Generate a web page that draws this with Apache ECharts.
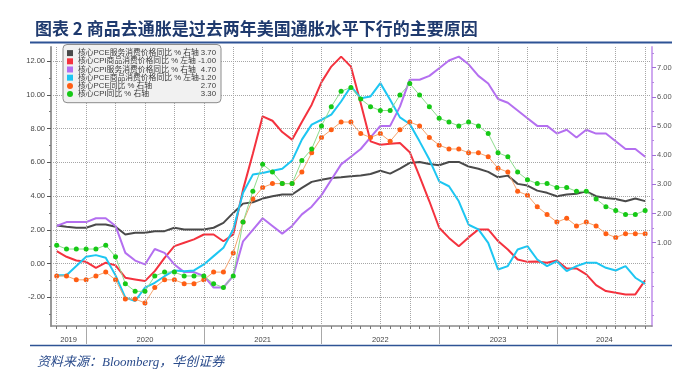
<!DOCTYPE html>
<html><head><meta charset="utf-8">
<script src="https://cdn.jsdelivr.net/npm/echarts@6/dist/echarts.min.js"></script>
<style>html,body{margin:0;padding:0;background:#fff}#c{width:686px;height:373px}</style>
</head><body><div id="c"></div>
<script>
// ---- data ----
const months = ['2019-09','2019-10','2019-11','2019-12',
 '2020-01','2020-02','2020-03','2020-04','2020-05','2020-06','2020-07','2020-08','2020-09','2020-10','2020-11','2020-12',
 '2021-01','2021-02','2021-03','2021-04','2021-05','2021-06','2021-07','2021-08','2021-09','2021-10','2021-11','2021-12',
 '2022-01','2022-02','2022-03','2022-04','2022-05','2022-06','2022-07','2022-08','2022-09','2022-10','2022-11','2022-12',
 '2023-01','2023-02','2023-03','2023-04','2023-05','2023-06','2023-07','2023-08','2023-09','2023-10','2023-11','2023-12',
 '2024-01','2024-02','2024-03','2024-04','2024-05','2024-06','2024-07','2024-08','2024-09'];
const yearNames = ['2019','2020','2021','2022','2023','2024'];

const pceServices = [2.25,2.18,2.12,2.12,2.31,2.31,2.18,1.72,1.82,1.82,
 1.92,1.92,2.12,2.02,2.02,2.02,2.12,2.41,3.00,3.55,3.63,
 3.85,3.99,4.09,4.09,4.48,4.84,4.97,5.07,5.11,5.17,5.22,
 5.31,5.50,5.33,5.62,5.96,6.02,5.90,5.82,6.02,6.02,5.75,
 5.62,5.43,5.11,5.21,4.72,4.62,4.32,4.19,3.99,
 4.09,4.13,4.28,3.99,3.89,3.83,3.69,3.85,3.70];
const cpiGoods = [0.73,0.40,0.18,0.10,-0.25,0.05,-0.11,-0.84,-0.94,-1.04,
 -0.45,0.34,1.03,1.23,1.43,1.72,1.72,1.32,1.72,4.38,6.50,
 8.72,8.46,7.79,7.34,8.39,9.41,10.75,11.67,12.26,11.67,9.50,
 7.24,7.04,7.10,7.14,6.60,5.17,3.69,2.12,1.52,1.03,1.55,
 2.02,2.02,1.33,0.83,0.24,0.10,0.12,0.05,0.18,
 -0.29,-0.29,-0.64,-1.28,-1.63,-1.73,-1.83,-1.83,-1.00];
const cpiServices = [2.9,3.0,3.0,3.0,3.1,3.1,2.9,2.2,2.0,1.9,
 2.3,2.2,1.9,1.7,1.7,1.6,1.3,1.3,1.6,2.5,2.8,
 3.1,2.9,2.7,2.9,3.2,3.4,3.7,4.1,4.5,4.7,4.9,
 5.2,5.5,5.5,6.0,6.7,6.7,6.8,7.0,7.2,7.3,7.1,
 6.8,6.6,6.2,6.1,5.9,5.7,5.5,5.5,5.3,
 5.4,5.2,5.4,5.3,5.3,5.1,4.9,4.9,4.7];
const pceGoods = [-0.69,-0.69,-0.15,0.40,0.50,0.34,-0.70,-2.02,-2.22,-1.43,
 -1.14,-0.75,-0.41,-0.45,-0.41,-0.05,0.44,0.93,2.02,4.19,5.27,
 5.37,5.50,5.62,6.10,7.34,8.23,8.52,8.82,9.60,10.49,9.80,
 9.90,10.69,9.70,8.66,8.27,7.24,6.16,4.87,4.58,3.69,2.30,
 2.02,1.23,-0.35,-0.15,0.83,1.03,0.24,-0.15,0.14,
 -0.45,-0.15,0.05,0.05,-0.25,-0.41,-0.15,-0.84,-1.20];
const corePCE = [1.6,1.6,1.5,1.5,1.6,1.7,1.5,1.0,1.0,0.9,
 1.3,1.5,1.5,1.4,1.4,1.5,1.7,1.7,2.2,3.0,3.6,
 3.9,4.0,4.0,4.0,4.3,4.8,5.2,5.4,5.6,5.6,5.3,
 5.2,5.3,5.1,5.4,5.6,5.5,5.2,5.0,4.9,4.9,4.8,
 4.8,4.7,4.4,4.3,3.8,3.7,3.4,3.2,3.0,
 3.1,2.9,3.0,2.9,2.7,2.6,2.7,2.7,2.7];
const coreCPI = [2.4,2.3,2.3,2.3,2.3,2.4,2.1,1.4,1.2,1.2,
 1.6,1.7,1.7,1.6,1.6,1.6,1.4,1.3,1.6,3.0,3.8,
 4.5,4.3,4.0,4.0,4.6,4.9,5.5,6.0,6.4,6.5,6.2,
 6.0,5.9,5.9,6.3,6.6,6.3,6.0,5.7,5.6,5.5,5.6,
 5.5,5.3,4.8,4.7,4.3,4.1,4.0,4.0,3.9,
 3.9,3.8,3.8,3.6,3.4,3.3,3.2,3.2,3.3];

const seriesNames = ['核心PCE服务消费价格同比 % 右轴','核心CPI商品消费价格同比 % 左轴','核心CPI服务消费价格同比 % 右轴',
 '核心PCE商品消费价格同比 % 左轴','核心PCE同比 % 右轴','核心CPI同比 % 右轴'];
const legendValues = ['3.70','-1.00','4.70','-1.20','2.70','3.30'];
const leftTicks = [-2,0,2,4,6,8,10,12];
const rightTicks = [1,2,3,4,5,6,7];

// ---- layout ----
const X_MIN = -0.58, X_MAX = 60.7;
const pairs = arr => arr.map((v,i)=>[i,v]);
const idxAll = months.map((m,i)=>i);
const quarterIdx = idxAll.filter(i=>i%3===0);
const decIdx = months.map((m,i)=>m.endsWith('-12')?i:-1).filter(i=>i>=0);
const bounds = [X_MIN, ...decIdx, X_MAX];
const yearCenters = yearNames.map((y,k)=>(bounds[k]+bounds[k+1])/2);
const valLabel = {}; seriesNames.forEach((n,k)=>valLabel[n]=legendValues[k]);

const FONT = 'Liberation Sans, Arial, sans-serif';
const CJK = 'Liberation Sans, "Noto Sans CJK SC", sans-serif';
const colors = ['#4a4a4a','#f4323e','#b46ff0','#1dc6f2','#ff5e14','#16c916'];
const grid = {left:51,right:34,top:47,bottom:47};
const gridLine = () => ({color:'#a6a6a6',type:'dotted',width:1});

const chart = echarts.init(document.getElementById('c'),null,{renderer:'canvas'});
const baseX = () => ({type:'value',min:X_MIN,max:X_MAX,gridIndex:0,position:'bottom',
  splitLine:{show:false},minorSplitLine:{show:false}});
chart.setOption({
 animation:false,
 backgroundColor:'#fff',
 title:[
  {text:'图表 2 商品去通胀是过去两年美国通胀水平下行的主要原因',left:30,top:15,
   textStyle:{fontFamily:'"Noto Sans CJK SC", sans-serif',fontSize:17,fontWeight:'bold',color:'#1f3a6e'}},
  {text:'资料来源：Bloomberg，华创证券',left:32,top:351,
   textStyle:{fontFamily:'"Liberation Serif", "Noto Sans CJK SC", serif',fontSize:13,fontStyle:'italic',fontWeight:'normal',color:'#2b4c8c'}}
 ],
 graphic:[
  {type:'line',shape:{x1:30,y1:42.5,x2:672,y2:42.5},style:{stroke:'#2e5395',lineWidth:2}},
  {type:'line',shape:{x1:30,y1:345.5,x2:672,y2:345.5},style:{stroke:'#2e5395',lineWidth:1.5}}
 ],
 grid:grid,
 legend:{
  orient:'vertical',left:63,top:44.5,itemGap:0,itemWidth:6,itemHeight:6,z:10,
  padding:[4.5,5,4.5,4],backgroundColor:'#f1f1f1',borderColor:'#8c8c8c',borderWidth:1,borderRadius:4,
  data:seriesNames.map((n,k)=>({name:n,icon:k>=4?'circle':'rect'})),
  formatter:n=>'{n|'+n+'}{v|'+valLabel[n]+'}',
  textStyle:{fontFamily:CJK,fontSize:7.8,color:'#333',lineHeight:8.2,
   rich:{n:{width:124,fontSize:7.8,lineHeight:8.2,color:'#3a3a3a'},v:{width:14,align:'right',fontSize:7.8,lineHeight:8.2,color:'#3a3a3a'}}}
 },
 xAxis:[
  Object.assign(baseX(),{axisLine:{show:true,onZero:false,lineStyle:{color:'#8a8a8a',width:1.5}},
   axisTick:{show:true,customValues:idxAll,length:3,lineStyle:{color:'#777'}},axisLabel:{show:false}}),
  Object.assign(baseX(),{axisLine:{show:false,onZero:false},
   axisTick:{show:true,customValues:decIdx,length:18,lineStyle:{color:'#a8a8a8'}},
   axisLabel:{show:true,customValues:yearCenters,margin:10,fontFamily:FONT,fontSize:7.5,color:'#444',
    formatter:v=>{const k=yearCenters.findIndex(c=>Math.abs(c-v)<1e-6);return k>=0?yearNames[k]:'';}}})
 ],
 yAxis:[
  {type:'value',min:-3.7,max:12.83,position:'left',
   axisLine:{show:true,onZero:false,lineStyle:{color:'#9a9a9a',width:2}},
   axisTick:{show:true,customValues:leftTicks,length:4,lineStyle:{color:'#555'}},
   axisLabel:{customValues:leftTicks,margin:6,fontFamily:FONT,fontSize:7.5,color:'#444',formatter:v=>v.toFixed(2)},
   splitLine:{show:true,lineStyle:gridLine()}},
  {type:'value',min:-3.7,max:12.83,position:'left',axisLine:{show:false,onZero:false},
   axisTick:{show:true,customValues:[-3,-1,1,3,5,7,9,11],length:2,lineStyle:{color:'#777'}},
   axisLabel:{show:false},splitLine:{show:false}},
  {type:'value',min:-1.86,max:7.71,position:'right',
   axisLine:{show:true,onZero:false,lineStyle:{color:'#cfa9f0',width:2}},
   axisTick:{show:true,customValues:rightTicks,length:4,lineStyle:{color:'#a070d8'}},
   axisLabel:{customValues:rightTicks,margin:5,fontFamily:FONT,fontSize:7.5,color:'#555',formatter:v=>v.toFixed(2)},
   splitLine:{show:false}},
  {type:'value',min:-1.86,max:7.71,position:'right',axisLine:{show:false,onZero:false},
   axisTick:{show:true,customValues:[-1.5,-1,-0.5,0,0.5,1.5,2.5,3.5,4.5,5.5,6.5,7.5],length:2,lineStyle:{color:'#b58ae0'}},
   axisLabel:{show:false},splitLine:{show:false}},
  {type:'value',min:0.3,max:7.55,show:false,axisLine:{onZero:false},splitLine:{show:false}}
 ],
 series:[
  {name:seriesNames[0],type:'line',xAxisIndex:0,yAxisIndex:0,data:pairs(pceServices),symbol:'none',
   itemStyle:{color:colors[0]},lineStyle:{color:colors[0],width:2},z:3,
   markLine:{silent:true,symbol:'none',label:{show:false},animation:false,
    lineStyle:gridLine(),emphasis:{disabled:true},
    data:quarterIdx.map(i=>({xAxis:i}))}},
  {name:seriesNames[1],type:'line',xAxisIndex:0,yAxisIndex:0,data:pairs(cpiGoods),symbol:'none',
   itemStyle:{color:colors[1]},lineStyle:{color:colors[1],width:2},z:3},
  {name:seriesNames[2],type:'line',xAxisIndex:0,yAxisIndex:4,data:pairs(cpiServices),symbol:'none',
   itemStyle:{color:colors[2]},lineStyle:{color:colors[2],width:2},z:3},
  {name:seriesNames[3],type:'line',xAxisIndex:0,yAxisIndex:0,data:pairs(pceGoods),symbol:'none',
   itemStyle:{color:colors[3]},lineStyle:{color:colors[3],width:2},z:3},
  {name:seriesNames[4],type:'line',xAxisIndex:0,yAxisIndex:4,data:pairs(corePCE),symbol:'circle',symbolSize:5,
   itemStyle:{color:colors[4]},lineStyle:{color:'#f5a46e',width:1},z:4},
  {name:seriesNames[5],type:'line',xAxisIndex:0,yAxisIndex:4,data:pairs(coreCPI),symbol:'circle',symbolSize:5,
   itemStyle:{color:colors[5]},lineStyle:{color:'#8cdc8c',width:1},z:5}
 ]
});
</script></body></html>
